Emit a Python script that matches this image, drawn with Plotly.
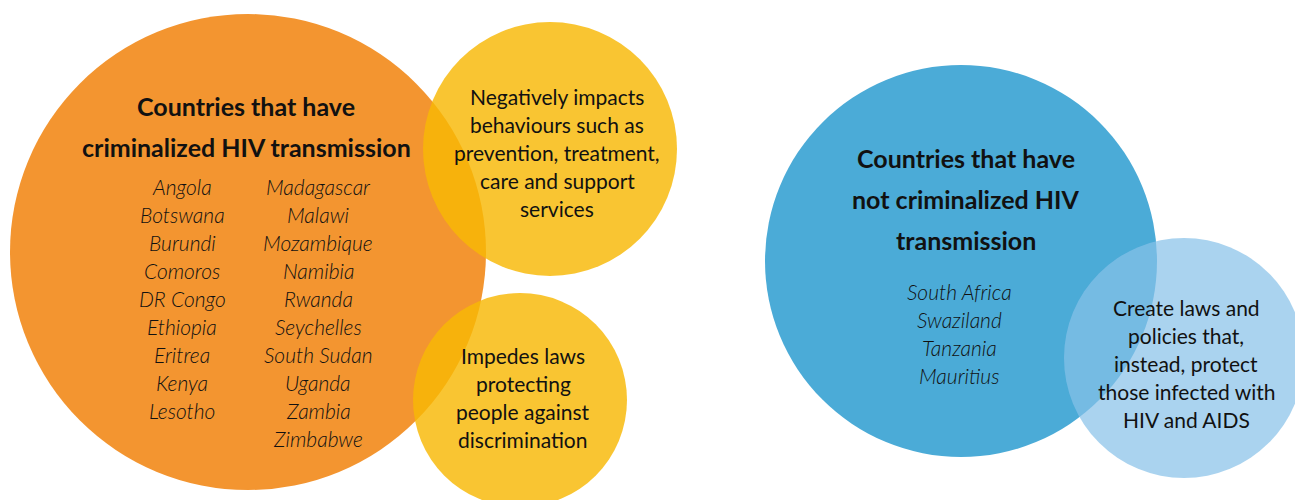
import plotly.graph_objects as go

# ---- data ----
circle_names = ["criminalized", "impacts", "impedes", "not_criminalized", "protect"]
circle_cx = [248, 550, 520, 961, 1184]
circle_cy = [252, 149, 400, 261, 358]
circle_r = [238, 127, 107, 196, 120]
circle_colors = ["rgb(243,149,48)", "rgba(248,184,5,0.82)", "rgba(248,184,5,0.82)",
                 "rgb(75,171,215)", "rgba(135,193,232,0.71)"]

title_crim = ["Countries that have", "criminalized HIV transmission"]
countries_crim_col1 = ["Angola", "Botswana", "Burundi", "Comoros", "DR Congo",
                       "Ethiopia", "Eritrea", "Kenya", "Lesotho"]
countries_crim_col2 = ["Madagascar", "Malawi", "Mozambique", "Namibia", "Rwanda",
                       "Seychelles", "South Sudan", "Uganda", "Zambia", "Zimbabwe"]
text_impacts = ["Negatively impacts", "behaviours such as", "prevention, treatment,",
                "care and support", "services"]
text_impedes = ["Impedes laws", "protecting", "people against", "discrimination"]
title_not = ["Countries that have", "not criminalized HIV", "transmission"]
countries_not = ["South Africa", "Swaziland", "Tanzania", "Mauritius"]
text_protect = ["Create laws and", "policies that,", "instead, protect",
                "those infected with", "HIV and AIDS"]

FONT = "Lato"
fig = go.Figure()
fig.add_trace(go.Scatter(x=[0, 1295], y=[0, 500], mode="markers",
                         marker=dict(opacity=0), hoverinfo="skip", showlegend=False))

for cx, cy, r, col in zip(circle_cx, circle_cy, circle_r, circle_colors):
    fig.add_shape(type="circle", xref="x", yref="y",
                  x0=cx - r, x1=cx + r, y0=cy - r, y1=cy + r,
                  fillcolor=col, line=dict(width=0), layer="above")

def block(lines, x, y0, dy, size, weight="normal", style="normal"):
    for i, t in enumerate(lines):
        fig.add_annotation(x=x, y=y0 + i * dy, xref="x", yref="y", text=t,
                           showarrow=False, xanchor="center", yanchor="middle",
                           font=dict(family=FONT, size=size, color="#111111",
                                     weight=weight, style=style))

block(title_crim, 246, 106, 41, 25, weight="bold")
block(countries_crim_col1, 182, 186, 28.1, 21, weight=300, style="italic")
block(countries_crim_col2, 318, 186, 28.1, 21, weight=300, style="italic")
block(text_impacts, 557, 96, 28, 21)
block(text_impedes, 523, 355, 28, 21)
block(title_not, 966, 158, 41, 25, weight="bold")
block(countries_not, 959, 291, 28, 21, weight=300, style="italic")
block(text_protect, 1186, 307, 28, 21)

fig.update_layout(width=1295, height=500, margin=dict(l=0, r=0, t=0, b=0),
                  paper_bgcolor="white", plot_bgcolor="white", showlegend=False,
                  xaxis=dict(range=[0, 1295], visible=False, fixedrange=True),
                  yaxis=dict(range=[500, 0], visible=False, fixedrange=True))
fig.write_html("out.html", config={"displayModeBar": False},
               post_script="document.body.style.margin='0';document.body.style.overflow='hidden';")
